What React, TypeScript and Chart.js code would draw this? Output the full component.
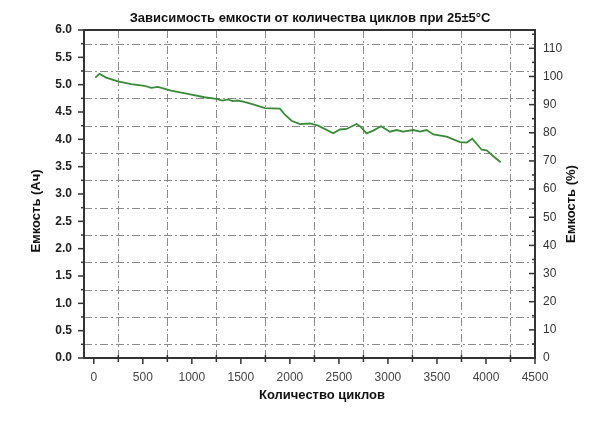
import React, { useEffect, useRef } from "react";
import { Chart, registerables } from "chart.js";

Chart.register(...registerables);

const TITLE = "Зависимость емкости от количества циклов при 25±5°C";
const X_TITLE = "Количество циклов";
const Y_LEFT_TITLE = "Емкость (Ач)";
const Y_RIGHT_TITLE = "Емкость (%)";

const cycles = [15, 58, 126, 245, 381, 517, 585, 653, 789, 959, 1129, 1248, 1316, 1367, 1418, 1462, 1524, 1626, 1745, 1898, 1949, 2017, 2102, 2204, 2289, 2442, 2510, 2578, 2680, 2721, 2782, 2850, 2930, 3020, 3088, 3156, 3258, 3327, 3395, 3463, 3599, 3735, 3803, 3860, 3956, 4007, 4075, 4150];
const capacityAh = [5.13, 5.20, 5.13, 5.06, 5.01, 4.98, 4.94, 4.96, 4.89, 4.83, 4.77, 4.74, 4.71, 4.73, 4.70, 4.71, 4.69, 4.64, 4.57, 4.56, 4.45, 4.34, 4.28, 4.29, 4.25, 4.11, 4.18, 4.19, 4.28, 4.23, 4.11, 4.16, 4.24, 4.14, 4.17, 4.14, 4.17, 4.14, 4.17, 4.09, 4.05, 3.95, 3.94, 4.01, 3.81, 3.80, 3.69, 3.58];

const xTicks = [0, 500, 1000, 1500, 2000, 2500, 3000, 3500, 4000, 4500];
const xGrid = [250, 750, 1250, 1750, 2250, 2750, 3250, 3750, 4250];
const yLeftTicks = [0, 0.5, 1, 1.5, 2, 2.5, 3, 3.5, 4, 4.5, 5, 5.5, 6];
const yGrid = [0.25, 0.75, 1.25, 1.75, 2.25, 2.75, 3.25, 3.75, 4.25, 4.75, 5.25, 5.75];
const yRightTicks = [0, 10, 20, 30, 40, 50, 60, 70, 80, 90, 100, 110];
const yRightMinor = [5, 15, 25, 35, 45, 55, 65, 75, 85, 95, 105, 115];

const X_MIN = -100;
const X_MAX = 4500;
const Y_MAX = 6;
const NOMINAL_AH = 5.15;
const Y2_MAX = (Y_MAX / NOMINAL_AH) * 100;

const FONT = "'Liberation Sans', Arial, sans-serif";

const decorPlugin = {
  id: "decor",
  beforeDraw(chart: any) {
    const { ctx, width, height } = chart;
    ctx.save();
    ctx.fillStyle = "#ffffff";
    ctx.fillRect(0, 0, width, height);
    ctx.restore();
  },
  beforeDatasetsDraw(chart: any) {
    const { ctx, chartArea: a, scales } = chart;
    const x = scales.x;
    const y = scales.y;
    ctx.save();
    ctx.strokeStyle = "#8c8c8c";
    ctx.lineWidth = 1;
    ctx.setLineDash([8, 3, 2, 3]);
    yGrid.forEach((v) => {
      const py = Math.round(y.getPixelForValue(v)) + 0.5;
      ctx.beginPath();
      ctx.moveTo(a.left, py);
      ctx.lineTo(a.right, py);
      ctx.stroke();
    });
    xGrid.forEach((v) => {
      const px = Math.round(x.getPixelForValue(v)) + 0.5;
      ctx.beginPath();
      ctx.moveTo(px, a.top);
      ctx.lineTo(px, a.bottom);
      ctx.stroke();
    });
    ctx.restore();
  },
  afterDatasetsDraw(chart: any) {
    const { ctx, chartArea: a, scales } = chart;
    const x = scales.x;
    const y = scales.y;
    const y2 = scales.y2;
    ctx.save();
    ctx.strokeStyle = "#333333";
    ctx.setLineDash([]);
    ctx.lineWidth = 2;
    ctx.strokeRect(a.left, a.top, a.right - a.left, a.bottom - a.top);
    ctx.lineWidth = 1.5;
    const line = (x1: number, y1: number, x2: number, y2p: number) => {
      ctx.beginPath();
      ctx.moveTo(x1, y1);
      ctx.lineTo(x2, y2p);
      ctx.stroke();
    };
    yLeftTicks.forEach((v) => {
      const py = y.getPixelForValue(v);
      line(a.left - 6, py, a.left, py);
    });
    yGrid.forEach((v) => {
      const py = y.getPixelForValue(v);
      line(a.left - 3, py, a.left, py);
    });
    xTicks.forEach((v) => {
      const px = x.getPixelForValue(v);
      line(px, a.bottom, px, a.bottom + 6);
    });
    xGrid.forEach((v) => {
      const px = x.getPixelForValue(v);
      line(px, a.bottom - 3, px, a.bottom + 4);
    });
    yRightTicks.forEach((v) => {
      const py = y2.getPixelForValue(v);
      line(a.right - 6, py, a.right, py);
    });
    yRightMinor.forEach((v) => {
      const py = y2.getPixelForValue(v);
      if (py >= a.top) line(a.right - 3, py, a.right, py);
    });
    ctx.restore();
  },
  afterDraw(chart: any) {
    const { ctx } = chart;
    ctx.save();
    ctx.fillStyle = "#111111";
    ctx.font = `bold 13px ${FONT}`;
    ctx.textAlign = "center";
    ctx.textBaseline = "middle";
    ctx.fillText(TITLE, 310, 18);
    ctx.fillText(X_TITLE, 322, 395);
    ctx.save();
    ctx.translate(36, 211);
    ctx.rotate(-Math.PI / 2);
    ctx.fillText(Y_LEFT_TITLE, 0, 0);
    ctx.restore();
    ctx.save();
    ctx.translate(571, 204);
    ctx.rotate(-Math.PI / 2);
    ctx.fillText(Y_RIGHT_TITLE, 0, 0);
    ctx.restore();
    ctx.restore();
  },
};

export default function App() {
  const ref = useRef<HTMLCanvasElement | null>(null);

  useEffect(() => {
    document.body.style.margin = "0";
    if (!ref.current) return;
    const chart = new Chart(ref.current, {
      type: "line",
      data: {
        datasets: [
          {
            data: cycles.map((c, i) => ({ x: c, y: capacityAh[i] })),
            borderColor: "#3a8a3a",
            borderWidth: 1.8,
            pointRadius: 0,
            tension: 0,
            fill: false,
            yAxisID: "y",
          },
        ],
      },
      options: {
        animation: false,
        responsive: true,
        maintainAspectRatio: false,
        layout: { padding: { top: 30, left: 0, right: 0, bottom: 0 } },
        plugins: {
          legend: { display: false },
          title: { display: false },
          tooltip: { enabled: false },
        },
        scales: {
          x: {
            type: "linear",
            min: X_MIN,
            max: X_MAX,
            grid: { display: false, drawTicks: false },
            border: { display: false },
            afterBuildTicks: (s: any) => {
              s.ticks = xTicks.map((v) => ({ value: v }));
            },
            afterFit: (s: any) => {
              s.height = 84;
            },
            ticks: {
              padding: 12,
              maxRotation: 0,
              autoSkip: false,
              color: "#444444",
              font: { family: FONT, size: 12 },
              callback: (v: any) => String(v),
            },
          },
          y: {
            type: "linear",
            position: "left",
            min: 0,
            max: Y_MAX,
            grid: { display: false, drawTicks: false },
            border: { display: false },
            afterBuildTicks: (s: any) => {
              s.ticks = yLeftTicks.map((v) => ({ value: v }));
            },
            afterFit: (s: any) => {
              s.width = 84;
            },
            ticks: {
              padding: 12,
              autoSkip: false,
              color: "#222222",
              font: { family: FONT, size: 12, weight: "bold" },
              callback: (v: any) => Number(v).toFixed(1),
            },
          },
          y2: {
            type: "linear",
            position: "right",
            min: 0,
            max: Y2_MAX,
            grid: { display: false, drawTicks: false },
            border: { display: false },
            afterBuildTicks: (s: any) => {
              s.ticks = yRightTicks.map((v) => ({ value: v }));
            },
            afterFit: (s: any) => {
              s.width = 65;
            },
            ticks: {
              padding: 8,
              autoSkip: false,
              color: "#333333",
              font: { family: FONT, size: 12 },
              callback: (v: any) => String(v),
            },
          },
        },
      },
      plugins: [decorPlugin],
    });
    return () => chart.destroy();
  }, []);

  return (
    <div style={{ width: 600, height: 442, position: "relative" }}>
      <canvas ref={ref} />
    </div>
  );
}
